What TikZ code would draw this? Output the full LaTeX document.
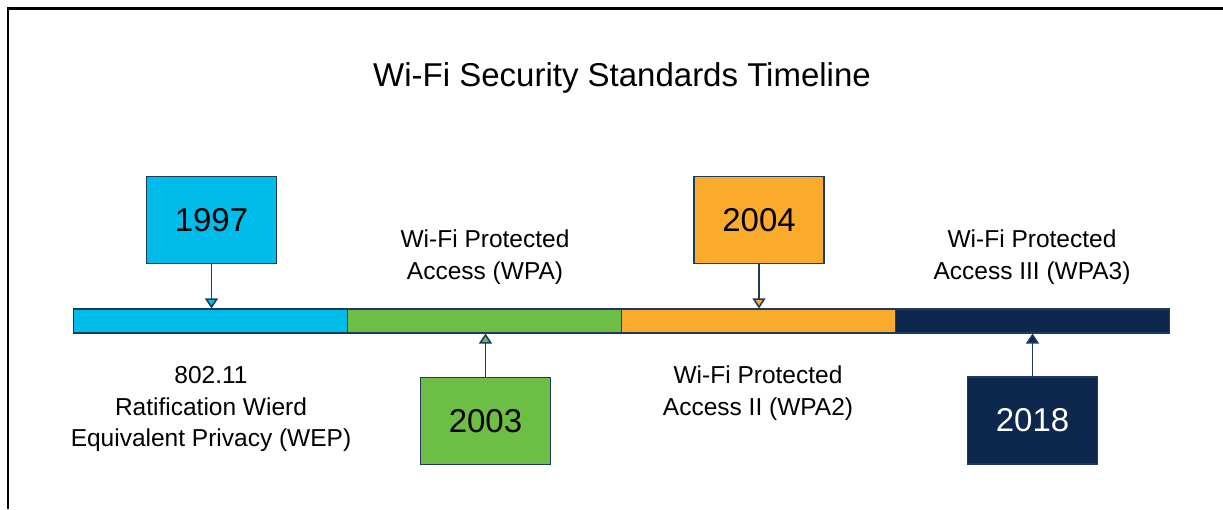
\documentclass[tikz,border=0pt]{standalone}
\usepackage{fontspec}
\setmainfont{Liberation Sans}
\usetikzlibrary{arrows.meta}
\definecolor{wepblue}{HTML}{00BCEB}
\definecolor{wpagreen}{HTML}{6CBE45}
\definecolor{wpaorange}{HTML}{FBAB2C}
\definecolor{wpanavy}{HTML}{0D274D}
\definecolor{edgenavy}{HTML}{1E3A5C}
\tikzset{
	yearbox/.style={draw=edgenavy,line width=1.2pt,minimum width=130pt,minimum height=87pt,inner sep=0pt,font=\fontsize{33}{38}\selectfont},
	segment/.style={draw=edgenavy,line width=1.2pt,minimum width=274pt,minimum height=24pt,inner sep=0pt},
	eralabel/.style={align=center,font=\fontsize{24.5}{31.8}\selectfont},
	stem/.style={draw=edgenavy,line width=1.5pt,-{Triangle[width=13pt,length=10pt,fill=#1]}}
}
\begin{document}
\begin{tikzpicture}[x=1pt,y=-1pt]
		\useasboundingbox (0,0) rectangle (1223,509);
		%\clip (0,0) rectangle (1223,509);
		\draw [line width=2.4pt] (8,509) -- (8,8.5) -- (1223,8.5);
		\node [font=\fontsize{33}{38}\selectfont] (title) at (622,78) {Wi-Fi Security Standards Timeline};
		% timeline bar
		\node [segment,fill=wepblue] (wep) at (210.5,321) {};
		\node [segment,fill=wpagreen] (wpa) at (484.5,321) {};
		\node [segment,fill=wpaorange] (wpa2) at (758.5,321) {};
		\node [segment,fill=wpanavy] (wpa3) at (1032.5,321) {};
		% years
		\node [yearbox,fill=wepblue] (y1997) at (211.5,220) {1997};
		\node [yearbox,fill=wpagreen] (y2003) at (485.5,421) {2003};
		\node [yearbox,fill=wpaorange] (y2004) at (759,220) {2004};
		\node [yearbox,fill=wpanavy,text=white] (y2018) at (1032.5,420.5) {2018};
		\draw [stem=wepblue] (y1997) -- (y1997 |- wep.north);
		\draw [stem=wpagreen] (y2003) -- (y2003 |- wpa.south);
		\draw [stem=wpaorange] (y2004) -- (y2004 |- wpa2.north);
		\draw [stem=wpanavy] (y2018) -- (y2018 |- wpa3.south);
		% labels
		\node [eralabel] (lwep) at (211,409) {802.11\\Ratification Wierd\\Equivalent Privacy (WEP)};
		\node [eralabel] (lwpa) at (485,257) {Wi-Fi Protected\\Access (WPA)};
		\node [eralabel] (lwpa2) at (758,393) {Wi-Fi Protected\\Access II (WPA2)};
		\node [eralabel] (lwpa3) at (1032,257) {Wi-Fi Protected\\Access III (WPA3)};
	\end{tikzpicture}
\end{document}
